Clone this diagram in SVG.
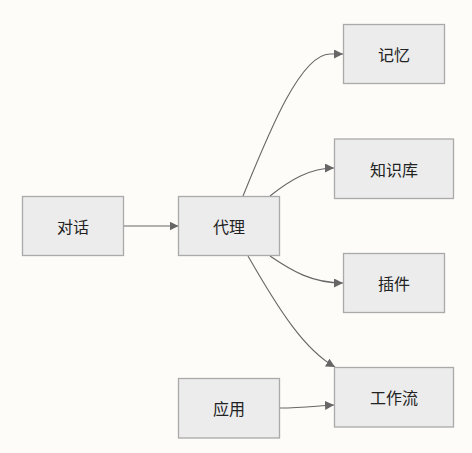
<svg xmlns="http://www.w3.org/2000/svg" width="472" height="453" viewBox="0 0 472 453">
<style>
.node rect{fill:#ECECEC;stroke:#AAAAAA;stroke-width:1.3}
.node text{font-family:"Noto Sans CJK SC","Noto Sans",sans-serif;font-size:16px;fill:#222;text-anchor:middle;dominant-baseline:central}
.edges path{fill:none;stroke:#666;stroke-width:1.1;marker-end:url(#arr)}
</style>
<defs>
<marker id="arr" viewBox="0 0 10 10" refX="10" refY="5" markerUnits="userSpaceOnUse" markerWidth="9" markerHeight="9" orient="auto">
<path d="M0,0 L10,5 L0,10 z" fill="#666"/>
</marker>
</defs>
<rect width="472" height="453" fill="#FDFCF8"/>
<g class="edges">
<path d="M123.5,226 L178.5,226"/>
<path d="M243,196 C268,135 300,54 330,54 L343,54"/>
<path d="M270,196 C290,180 310,168 334,168"/>
<path d="M270,256 C292,271 312,283 343,283"/>
<path d="M248,256 C280,312 305,350 335,367"/>
<path d="M280,408 C302,408 316,406 334,405"/>
</g>
<g id="n-duihua" class="node"><rect x="22.5" y="196.5" width="101" height="59"/><text x="73" y="226">对话</text></g>
<g id="n-daili" class="node"><rect x="178.5" y="196.5" width="101" height="59"/><text x="229" y="226">代理</text></g>
<g id="n-jiyi" class="node"><rect x="343.5" y="24.5" width="101" height="59"/><text x="394" y="54">记忆</text></g>
<g id="n-zhishiku" class="node"><rect x="334.5" y="139" width="119" height="59.5"/><text x="394" y="168.5">知识库</text></g>
<g id="n-chajian" class="node"><rect x="343.5" y="253.5" width="101" height="59"/><text x="394" y="283">插件</text></g>
<g id="n-gongzuoliu" class="node"><rect x="334.5" y="367.5" width="119" height="59.5"/><text x="394" y="397">工作流</text></g>
<g id="n-yingyong" class="node"><rect x="178.5" y="378.5" width="101" height="59.5"/><text x="229" y="408">应用</text></g>
</svg>
